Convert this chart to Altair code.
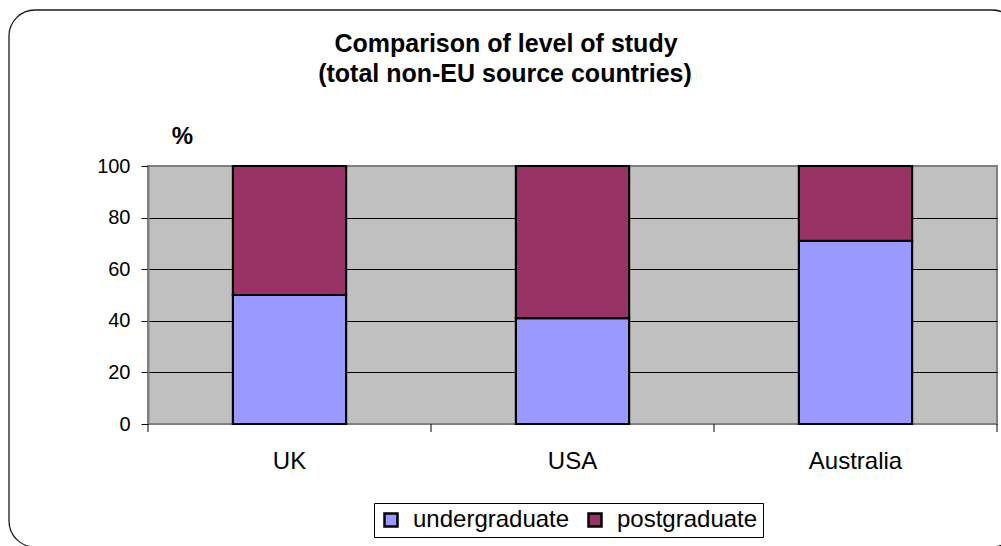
import altair as alt
import pandas as pd

# Share of non-EU students by level of study (%)
countries = ["UK", "USA", "Australia"]
levels = ["undergraduate", "postgraduate"]
undergraduate = [50, 41, 71]
postgraduate = [50, 59, 29]
level_colors = ["#9999FF", "#993366"]
y_ticks = [0, 20, 40, 60, 80, 100]
title_lines = ["Comparison of level of study", "(total non-EU source countries)"]

rows = []
for country, ug, pg in zip(countries, undergraduate, postgraduate):
    rows.append({"country": country, "level": levels[0], "share": ug, "rank": 0})
    rows.append({"country": country, "level": levels[1], "share": pg, "rank": 1})
data = pd.DataFrame(rows)
cats = pd.DataFrame({"country": countries})

W, H = 849, 258
LEFT, TOP = 148, 166
FONT = "Liberation Sans"
PAD_INNER = 0.6

bar_scale = alt.Scale(domain=countries, paddingInner=PAD_INNER, paddingOuter=PAD_INNER / 2)
# same categories without padding: band edges fall on the category boundaries
edge_scale = alt.Scale(domain=countries, paddingInner=0, paddingOuter=0)

# rounded frame around the whole chart
frame = alt.Chart(pd.DataFrame({"k": [0]})).mark_rect(
    fillOpacity=0, stroke="#1a1a1a", strokeWidth=1.3, cornerRadius=26
).encode(
    x=alt.value(9 - LEFT), x2=alt.value(1018 - LEFT),
    y=alt.value(10 - TOP), y2=alt.value(547 - TOP),
)

bars = alt.Chart(data).mark_bar(stroke="black", strokeWidth=2.2).encode(
    x=alt.X(
        "country:N", scale=bar_scale, sort=countries,
        axis=alt.Axis(
            title=None, labelAngle=0, ticks=False, domain=False, grid=False,
            labelFont=FONT, labelFontSize=24, labelColor="black",
            labelBaseline="alphabetic", labelPadding=44,
        ),
    ),
    y=alt.Y(
        "share:Q", stack="zero", scale=alt.Scale(domain=[0, 100], nice=False),
        axis=alt.Axis(
            values=y_ticks, title="%", titleAngle=0, titleX=34, titleY=-30,
            titleAlign="center", titleBaseline="middle", titleFont=FONT,
            titleFontSize=24, titleFontWeight="bold", titleColor="black",
            labelFont=FONT, labelFontSize=20, labelColor="black", labelPadding=11,
            tickSize=7, tickColor="black", domainColor="#808080", domainWidth=2,
            gridColor=alt.condition(
                "datum.value == 0 || datum.value == 100",
                alt.value("#808080"), alt.value("black"),
            ),
            gridWidth=1,
        ),
    ),
    color=alt.Color(
        "level:N", scale=alt.Scale(domain=levels, range=level_colors),
        legend=alt.Legend(
            title=None, orient="none", legendX=226, legendY=337,
            direction="horizontal", symbolType="square", symbolSize=169,
            symbolStrokeColor="black", symbolStrokeWidth=2.5,
            labelFont=FONT, labelFontSize=24, labelColor="black", labelLimit=400,
            labelOffset=10, columnPadding=13, padding=5,
            strokeColor="black", fillColor="white",
        ),
    ),
    order=alt.Order("rank:Q"),
)

# category separator ticks below the axis
sep_ticks = alt.Chart(cats).mark_rule(color="black", strokeWidth=1).encode(
    x=alt.X("country:N", bandPosition=0, scale=edge_scale, sort=countries, axis=None),
    y=alt.value(H), y2=alt.value(H + 8),
)
end_tick = alt.Chart(cats).transform_filter(
    alt.datum.country == countries[-1]
).mark_rule(color="black", strokeWidth=1).encode(
    x=alt.X("country:N", bandPosition=1, scale=edge_scale, sort=countries, axis=None),
    y=alt.value(H), y2=alt.value(H + 8),
)
ticks = alt.layer(sep_ticks, end_tick)

title1 = alt.Chart(pd.DataFrame({"t": [title_lines[0]]})).mark_text(
    font=FONT, fontSize=25, fontWeight="bold", color="black", align="center",
    baseline="alphabetic",
).encode(text="t:N", x=alt.value(506 - LEFT), y=alt.value(52 - TOP))
title2 = alt.Chart(pd.DataFrame({"t": [title_lines[1]]})).mark_text(
    font=FONT, fontSize=25, fontWeight="bold", color="black", align="center",
    baseline="alphabetic",
).encode(text="t:N", x=alt.value(505 - LEFT), y=alt.value(82 - TOP))

chart = alt.layer(frame, bars, ticks, title1, title2).resolve_scale(
    x="independent"
).properties(
    width=W, height=H,
    autosize=alt.AutoSizeParams(type="none"),
    padding={"left": LEFT, "top": TOP, "right": 1001 - LEFT - W, "bottom": 546 - TOP - H},
    background="white",
).configure_view(
    fill="#C0C0C0", stroke="#808080", strokeWidth=2
)

chart.save("out.html", embed_options={"renderer": "svg", "actions": False})
